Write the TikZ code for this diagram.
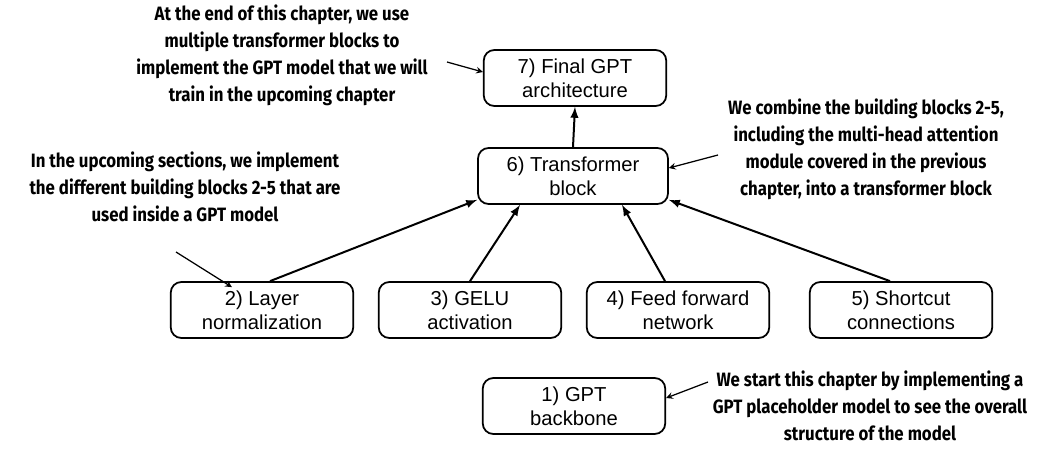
\documentclass[tikz,border=0pt]{standalone}
\usepackage{fontspec}
\setmainfont{Liberation Sans}
\newfontfamily\notefont{Fira Sans}[FakeStretch=0.87]
\usetikzlibrary{arrows, calc, positioning}
\tikzset{
  % Graph arrow style
  garr/.style={
    line width = 0.4mm
    , >=latex
    , ->
  },
}
\tikzset{
  %building block style
  block/.style={
    draw
    , line width=1pt
    , anchor=center
    , align=center
    , rounded corners=6pt
    , font=\fontsize{11.5}{13.5}\selectfont
    , minimum width=3.65cm
    , minimum height=1.12cm
    , inner sep=1pt
  },
  %annotation style
  note/.style={
    align=center
    , font=\notefont\bfseries\fontsize{11}{15.4}\selectfont
    , inner sep=0pt
  },
  narr/.style={
    line width=0.25mm
    , ->
    , >=stealth
  },
}

\begin{document}
\begin{tikzpicture}[x=0.02cm, y=-0.02cm]
      \useasboundingbox (0,0) rectangle (1042,457);
      \node[block] (gpt) at (575,78) {7) Final GPT\\architecture};
      \node[block, minimum width=3.8cm] (trf) at (573,176) {6) Transformer\\block};
      \node[block] (ln) at (262,310) {2) Layer\\normalization};
      \node[block] (gelu) at (470,310) {3) GELU\\activation};
      \node[block] (ff) at (678,310) {4) Feed forward\\network};
      \node[block] (sc) at (901,310) {5) Shortcut\\connections};
      \node[block] (bb) at (574,406) {1) GPT\\backbone};

      \node[note] (n7) at (282,55) {At the end of this chapter, we use\\multiple transformer blocks to\\implement the GPT model that we will\\train in the upcoming chapter};
      \node[note] (n2) at (185,187) {In the upcoming sections, we implement\\the different building blocks 2-5 that are\\used inside a GPT model};
      \node[note] (n6) at (866,149) {We combine the building blocks 2-5,\\including the multi-head attention\\module covered in the previous\\chapter, into a transformer block};
      \node[note] (n1) at (870,406) {We start this chapter by implementing a\\GPT placeholder model to see the overall\\structure of the model};

      % free ends of the note arrows
      \coordinate (n7e) at (447,62);
      \coordinate (n2e) at (176,252);
      \coordinate (n6e) at (718,155);
      \coordinate (n1e) at (708,382);

      \draw[garr] (trf.north) -- (gpt.south);
      \draw[garr] ($(ln.north)+(8,0)$) -- ($(trf.south west)+(0,-5)$);
      \draw[garr] (gelu.north) -- ($(trf.south)+(-53,0)$);
      \draw[garr] ($(ff.north)+(-13,0)$) -- ($(trf.south)+(49,0)$);
      \draw[garr] ($(sc.north)+(-11,0)$) -- ($(trf.south east)+(0,-5)$);

      \draw[narr] (n7e) -- ($(gpt.west)+(0,-6)$);
      \draw[narr] (n2e) -- ($(ln.north west)+(62,6)$);
      \draw[narr] (n6e) -- ($(trf.east)+(0,-8)$);
      \draw[narr] (n1e) -- ($(bb.east)+(0,-8)$);
\end{tikzpicture}
\end{document}
